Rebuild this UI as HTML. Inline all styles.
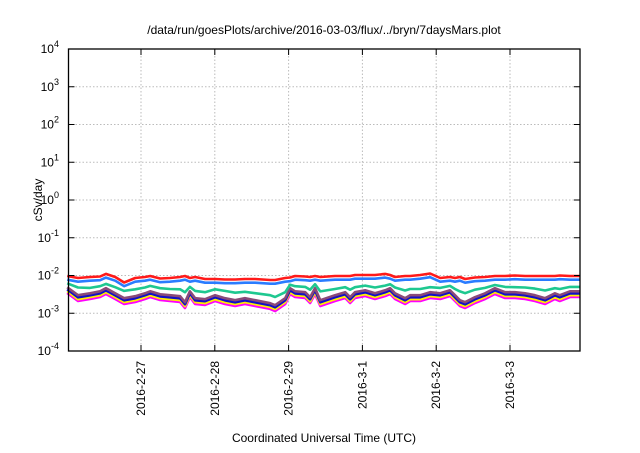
<!DOCTYPE html>
<html><head><meta charset="utf-8"><style>
body{margin:0;background:#fff;}
svg text{font-family:"Liberation Sans",sans-serif;fill:#000;}
</style></head><body>
<svg id="chart" width="640" height="448" viewBox="0 0 640 448" xmlns="http://www.w3.org/2000/svg">
<rect width="640" height="448" fill="#fff"/>
<text x="324" y="34" font-size="12" text-anchor="middle">/data/run/goesPlots/archive/2016-03-03/flux/../bryn/7daysMars.plot</text>
<text x="0" y="0" font-size="12" text-anchor="middle" transform="translate(42,200) rotate(-90)">cSv/day</text>
<text x="324" y="442" font-size="12" text-anchor="middle">Coordinated Universal Time (UTC)</text>
<g id="grid"></g><g id="series"></g><g id="axes"></g>
</svg>
<script>
const hours=[0,3.5,7.4,10.7,12.6,15.6,18.5,22.1,25.3,27,30.2,33.4,36.7,38.3,39.9,41.6,44.8,48.1,51.3,54.6,57.8,61.1,66,67.6,70.9,72.5,74.1,77.4,79,80.6,82.3,87.1,90.4,92,93.6,96.9,100.1,103.4,105,106.6,109.9,111.5,114.8,118,121.3,124.5,126.1,127.7,129.4,132.6,135.9,139.1,142.4,145.6,148.9,152.1,155.4,158.6,160.2,163.5,166.7];
const magenta=[3.44,2.11,2.38,2.69,3.24,2.38,1.76,1.99,2.38,2.69,2.24,2.11,1.99,1.38,2.69,1.76,1.66,2.11,1.76,1.56,1.76,1.56,1.30,1.15,1.76,3.24,2.69,2.54,1.87,3.24,1.56,2.11,2.54,1.87,2.54,2.86,2.38,2.86,3.24,2.38,1.76,2.11,2.11,2.54,2.38,2.86,2.11,1.56,1.38,1.87,2.38,3.24,2.54,2.54,2.38,2.11,1.76,2.38,2.11,2.69,2.69];
const yellow=[3.85,2.36,2.67,3.01,3.63,2.67,1.97,2.23,2.67,3.01,2.51,2.36,2.23,1.55,3.01,1.97,1.86,2.36,1.97,1.75,1.97,1.75,1.46,1.29,1.97,3.63,3.01,2.84,2.09,3.63,1.75,2.36,2.84,2.09,2.84,3.20,2.67,3.20,3.63,2.67,1.97,2.36,2.36,2.84,2.67,3.20,2.36,1.75,1.55,2.09,2.67,3.63,2.84,2.84,2.67,2.36,1.97,2.67,2.36,3.01,3.01];
const navy=[4.30,2.64,2.98,3.36,4.05,2.98,2.20,2.49,2.98,3.36,2.80,2.64,2.49,1.73,3.36,2.20,2.08,2.64,2.20,1.95,2.20,1.95,1.63,1.44,2.20,4.05,3.36,3.18,2.34,4.05,1.95,2.64,3.18,2.34,3.18,3.58,2.98,3.58,4.05,2.98,2.20,2.64,2.64,3.18,2.98,3.58,2.64,1.95,1.73,2.34,2.98,4.05,3.18,3.18,2.98,2.64,2.20,2.98,2.64,3.36,3.36];
const purple=[4.88,3.00,3.38,3.82,4.60,3.38,2.50,2.83,3.38,3.82,3.18,3.00,2.83,1.96,3.82,2.50,2.36,3.00,2.50,2.22,2.50,2.22,1.85,1.63,2.50,4.60,3.82,3.61,2.66,4.60,2.22,3.00,3.61,2.66,3.61,4.06,3.38,4.06,4.60,3.38,2.50,3.00,3.00,3.61,3.38,4.06,3.00,2.22,1.96,2.66,3.38,4.60,3.61,3.61,3.38,3.00,2.50,3.38,3.00,3.82,3.82];
const green=[6.2,4.8,4.7,5.2,6.0,4.9,3.9,4.3,4.8,5.3,4.6,4.4,4.3,3.6,5.0,3.9,3.6,4.3,3.9,3.5,3.7,3.4,3.0,2.7,3.6,5.7,5.2,5.0,4.2,5.9,3.8,4.4,4.9,4.2,4.9,5.4,4.8,5.4,5.9,4.8,4.0,4.4,4.4,4.9,4.7,5.3,4.4,3.8,3.4,4.2,4.7,5.6,5.0,4.9,4.8,4.5,4.0,4.6,4.4,5.0,5.0];
const blue=[7.76,6.87,7.30,7.53,8.80,7.30,5.22,6.87,7.30,7.76,6.66,6.87,7.30,7.76,6.87,7.30,6.46,6.46,6.27,6.27,6.46,6.46,6.08,6.08,6.87,7.08,7.76,7.53,7.30,7.76,7.30,7.76,7.76,7.76,8.24,8.24,8.24,8.80,8.24,7.30,7.76,7.76,8.24,9.04,6.87,7.30,6.87,7.30,6.46,7.08,7.30,7.76,7.76,8.00,7.76,7.76,7.76,7.76,8.00,7.76,7.76];
const red=[9.70,8.59,9.13,9.41,11.0,9.13,6.53,8.59,9.13,9.70,8.33,8.59,9.13,9.70,8.59,9.13,8.08,8.08,7.84,7.84,8.08,8.08,7.60,7.60,8.59,8.85,9.70,9.41,9.13,9.70,9.13,9.70,9.70,9.70,10.3,10.3,10.3,11.0,10.3,9.13,9.70,9.70,10.3,11.3,8.59,9.13,8.59,9.13,8.08,8.85,9.13,9.70,9.70,10.0,9.70,9.70,9.70,9.70,10.0,9.70,9.70];
const seriesScale=1e-3;
const xTickLabels=["2016-2-27","2016-2-28","2016-2-29","2016-3-1","2016-3-2","2016-3-3"];
const xTickHours=[24,48,72,96,120,144];
const yExponents=[4,3,2,1,0,-1,-2,-3,-4];

const NS="http://www.w3.org/2000/svg";
const L=68.5,R=580,T=49,B=351;
function xs(h){return 67.2+h/24*73.8;}
function ys(v){return T+(4-Math.log10(v))*(B-T)/8;}
function mk(tag,attrs,parent){const e=document.createElementNS(NS,tag);for(const k in attrs)e.setAttribute(k,attrs[k]);parent.appendChild(e);return e;}
const grid=document.getElementById('grid'),axes=document.getElementById('axes'),sg=document.getElementById('series');
yExponents.forEach(p=>{
  const y=ys(Math.pow(10,p));
  if(p<4&&p>-4){const g=mk('line',{x1:L,x2:R,y1:y,y2:y,stroke:'#bbb','stroke-width':1,'stroke-dasharray':'1.5,2'},grid);
  
  }
  const t1=mk('line',{x1:L,x2:L+6,y1:y,y2:y,stroke:'#000','stroke-width':1},axes);
  
  
  const t2=mk('line',{x1:R-6,x2:R,y1:y,y2:y,stroke:'#000','stroke-width':1},axes);
  
  
  const tx=mk('text',{x:59,y:y+4,'font-size':12,'text-anchor':'end'},axes);
  
  
  tx.innerHTML='10<tspan dy="-6" font-size="9">'+p+'</tspan>';
});
xTickHours.forEach((h,i)=>{
  const x=xs(h);
  const g=mk('line',{x1:x,x2:x,y1:T,y2:B,stroke:'#bbb','stroke-width':1,'stroke-dasharray':'1.5,2'},grid);
  
  
  const t1=mk('line',{x1:x,x2:x,y1:B-6,y2:B,stroke:'#000','stroke-width':1},axes);
  
  
  const t2=mk('line',{x1:x,x2:x,y1:T,y2:T+6,stroke:'#000','stroke-width':1},axes);
  
  
  const tx=mk('text',{x:0,y:0,'font-size':12,'text-anchor':'end',transform:'translate('+(x+4)+',361) rotate(-90)'},axes);
  
  
  tx.textContent=xTickLabels[i];
});
const fr=mk('rect',{x:L,y:T,width:R-L,height:B-T,fill:'none',stroke:'#000','stroke-width':1.3},axes);


const list=[[magenta,'#ff00ff','series-magenta'],[yellow,'#ffee00','series-yellow'],[navy,'#1010c8','series-navy'],[purple,'#8a4a78','series-purple'],[green,'#1ec890','series-green'],[blue,'#2a7cff','series-blue'],[red,'#ff1a1a','series-red']];
list.forEach(([vals,col,name])=>{
  const pts=hours.map((h,i)=>xs(h).toFixed(1)+','+ys(vals[i]*seriesScale).toFixed(1)).join(' ');
  const pl=mk('polyline',{points:pts,fill:'none',stroke:col,'stroke-width':2.6,'stroke-linejoin':'round'},sg);
  
  
});
</script>
</body></html>
